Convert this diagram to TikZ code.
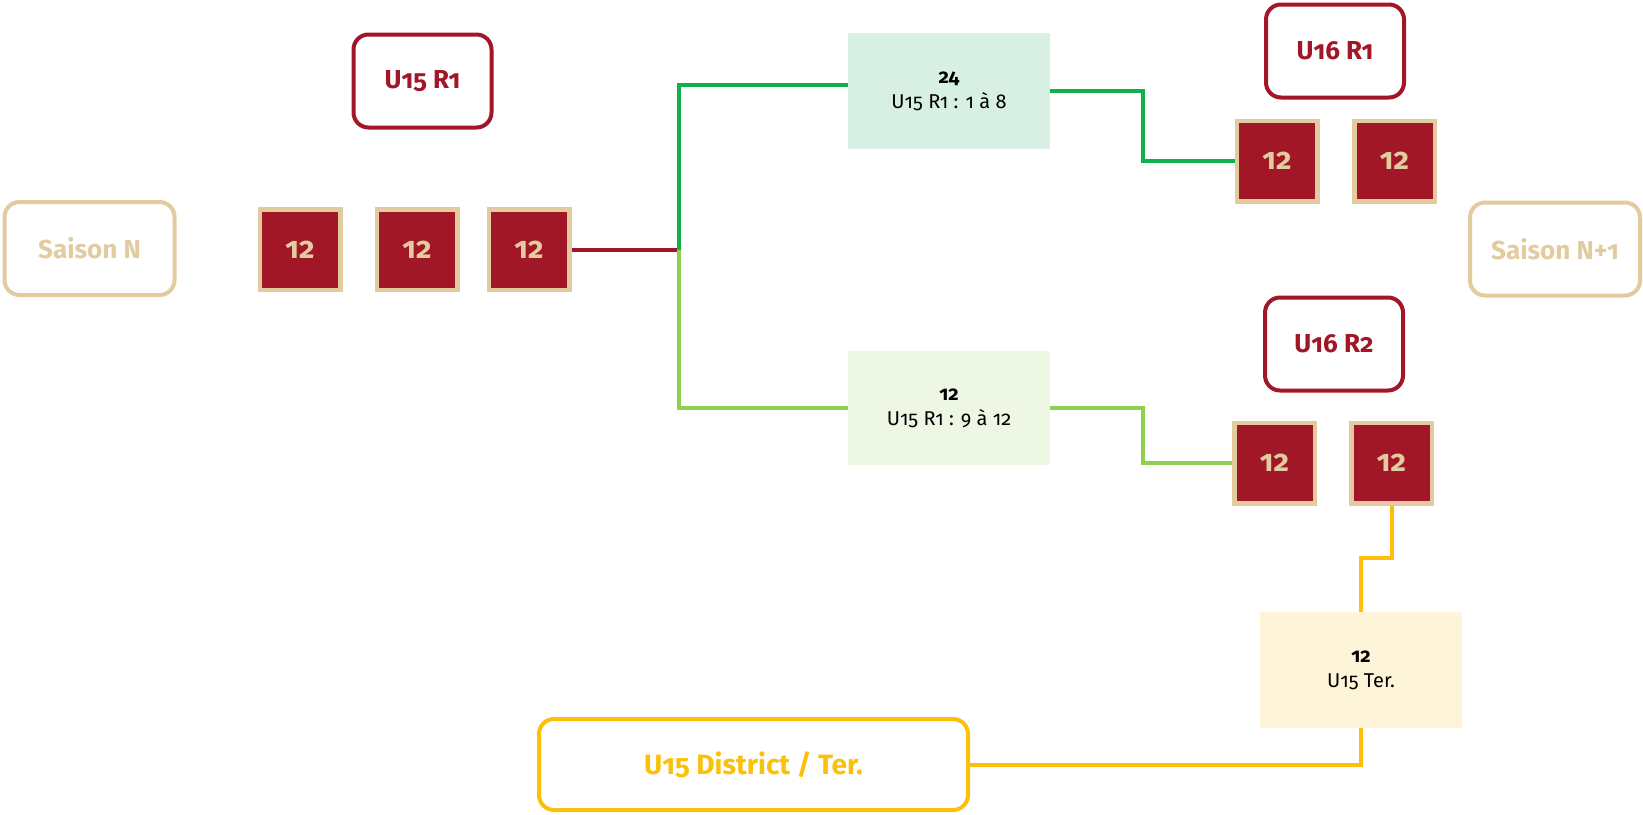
\documentclass[tikz,border=0pt]{standalone}
\usepackage{fontspec}
\setmainfont{Fira Sans}[Numbers=OldStyle]
\usetikzlibrary{calc,backgrounds}
\definecolor{dred}{HTML}{A21727}
\definecolor{sand}{HTML}{E2CC9F}
\definecolor{gline}{HTML}{12B04C}
\definecolor{lgline}{HTML}{8FD14F}
\definecolor{yline}{HTML}{FBC10A}
\definecolor{gfill}{HTML}{D7F0E3}
\definecolor{lgfill}{HTML}{EEF7E4}
\definecolor{yfill}{HTML}{FEF5D9}
\begin{document}
\begin{tikzpicture}[x=1pt,y=-1pt,
  roundbox/.style={line width=4pt, rounded corners=15pt, font=\bfseries\fontsize{26}{30}\selectfont, inner sep=0pt},
  team/.style={roundbox, draw=dred, text=dred, minimum width=138pt, minimum height=93pt},
  season/.style={roundbox, draw=sand, text=sand, minimum width=170pt, minimum height=93pt},
  district/.style={roundbox, draw=yline, text=yline, minimum width=429pt, minimum height=91pt, font=\bfseries\fontsize{28}{30}\selectfont},
  sq/.style={fill=dred, draw=sand, line width=4.5pt, minimum width=80.5pt, minimum height=80.5pt, text=sand, font=\bfseries\fontsize{30}{32}\selectfont, inner sep=0pt},
  info/.style={minimum width=202pt, minimum height=116pt, align=center, font=\fontsize{20}{25}\selectfont, inner sep=0pt},
  link/.style={line width=4pt},
]
\useasboundingbox (0,0) rectangle (1643,814);

% season boxes
\node[season] (sn)  at (89.5,248.5) {Saison N};
\node[season] (sn1) at (1555,249) {Saison N+1};

% team titles
\node[team] (u15r1) at (422.5,81) {U15 R1};
\node[team] (u16r1) at (1335,51) {U16 R1};
\node[team] (u16r2) at (1334,344) {U16 R2};
\node[district] (dist) at (753.5,764.5) {U15 District / Ter.};

% squares
\node[sq] (s1) at (300,249.5) {12};
\node[sq] (s2) at (417,249.5) {12};
\node[sq] (s3) at (529,249.5) {12};
\node[sq] (s4) at (1277,161) {12};
\node[sq] (s5) at (1394.5,161) {12};
\node[sq] (s6) at (1274.5,463) {12};
\node[sq] (s7) at (1391.5,463) {12};

% info boxes
\node[info, fill=gfill] (gbox) at (949,91) {\textbf{24}\\U15 R1 : 1 à 8};
\node[info, fill=lgfill, minimum height=114pt] (lgbox) at (949,408) {\textbf{12}\\U15 R1 : 9 à 12};
\node[info, fill=yfill] (ybox) at (1361,670) {\textbf{12}\\U15 Ter.};

\coordinate (j) at (679,249.5);

\begin{pgfonlayer}{background}
\fill[white] (0,0) rectangle (1643,814);
\draw[link, dred] (s3.east) -- (j);
\draw[link, gline] (j) |- ($(gbox.west)+(0,-6)$);
\draw[link, lgline] (j) |- (lgbox.west);
\draw[link, gline] (gbox.east) -- ++(93,0) |- (s4.west);
\draw[link, lgline] (lgbox.east) -- ++(93,0) |- (s6.west);
\draw[link, yline] (s7.south) -- ++(0,52) -| (ybox.north);
\draw[link, yline] (ybox.south) |- (dist.east);
\end{pgfonlayer}
\end{tikzpicture}
\end{document}
